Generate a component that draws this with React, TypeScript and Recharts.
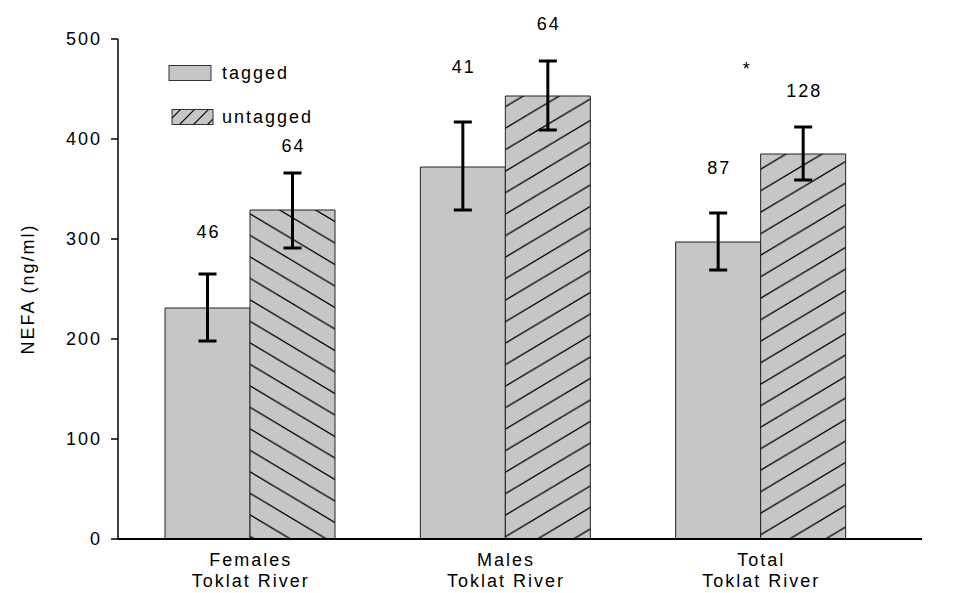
import React from 'react';
import {
  BarChart,
  Bar,
  XAxis,
  YAxis,
  ErrorBar,
  Cell,
  LabelList,
  Label
} from 'recharts';

// group names (two-line tick labels)
const groupNames = ['Females', 'Males', 'Total'];
const groupSub = ['Toklat River', 'Toklat River', 'Toklat River'];

// NEFA means (ng/ml), [minus, plus] error and sample sizes
const taggedMean = [231, 372, 297];
const taggedErr = [[33, 34], [43, 45], [28, 29]];
const taggedN = [46, 41, 87];

const untaggedMean = [329, 443, 385];
const untaggedErr = [[38, 37], [34, 35], [26, 27]];
const untaggedN = [64, 64, 128];

const significance = ['', '', '*'];

const yTicks = [0, 100, 200, 300, 400, 500];

const FONT = '"Liberation Sans", Arial, sans-serif';
const GRAY = '#c6c6c6';

// how far (px) the n-labels sit above the error bar tops
const TAGGED_LIFT = [42, 55, 45];
const UNTAGGED_LIFT = [27, 37, 36];

const data = groupNames.map((name, i) => ({
  name,
  sub: groupSub[i],
  tagged: taggedMean[i],
  taggedErr: taggedErr[i],
  taggedN: taggedN[i],
  untagged: untaggedMean[i],
  untaggedErr: untaggedErr[i],
  untaggedN: untaggedN[i],
  sig: significance[i]
}));

const textStyle = { fontFamily: FONT, fontSize: 18, fill: '#000', letterSpacing: 2 };

const GroupTick = (props: any) => {
  const { x, y, payload, index } = props;
  return (
    <g>
      <text x={x + 1} y={y + 19} textAnchor="middle" style={textStyle}>{payload.value}</text>
      <text x={x + 1} y={y + 40} textAnchor="middle" style={textStyle}>{groupSub[index]}</text>
    </g>
  );
};

const makeNLabel = (errs: number[][], lifts: number[], withSig: boolean) => (props: any) => {
  const { x, y, width, height, value, index } = props;
  const mean = withSig ? untaggedMean[index] : taggedMean[index];
  const pxPerUnit = height / mean;
  const errTop = y - errs[index][1] * pxPerUnit;
  const cx = x + width / 2;
  return (
    <g>
      <text x={cx + 1} y={errTop - lifts[index]} textAnchor="middle" dominantBaseline="central" style={textStyle}>
        {value}
      </text>
      {withSig && significance[index] ? (
        <text x={cx - 56} y={errTop - 58} textAnchor="middle" dominantBaseline="central" style={textStyle}>
          {significance[index]}
        </text>
      ) : null}
    </g>
  );
};

// legend drawn over the chart
const LegendBox = () => (
  <div
    style={{
      position: 'absolute',
      left: 168,
      top: 63,
      fontFamily: FONT,
      fontSize: 18,
      letterSpacing: 2,
      color: '#000',
      lineHeight: '20px'
    }}
  >
    <div style={{ display: 'flex', alignItems: 'center', height: 20 }}>
      <svg width={46} height={18}>
        <rect x={1} y={1.5} width={42} height={15} fill={GRAY} stroke="#333" strokeWidth={1} />
      </svg>
      <span style={{ marginLeft: 8 }}>tagged</span>
    </div>
    <div style={{ display: 'flex', alignItems: 'center', height: 20, marginTop: 24 }}>
      <svg width={46} height={18}>
        <rect x={4} y={1.5} width={41} height={15} fill="url(#hatchLegend)" stroke="#333" strokeWidth={1} />
      </svg>
      <span style={{ marginLeft: 8 }}>untagged</span>
    </div>
  </div>
);

export default function App() {
  return (
    <div style={{ position: 'absolute', left: 0, top: 0, width: 965, height: 593, background: '#fff' }}>
      <BarChart
        width={965}
        height={593}
        data={data}
        margin={{ top: 39, right: 43, bottom: 24, left: 0 }}
        barGap={0}
        barSize={85}
      >
        <defs>
          <pattern id="hatchSlash" patternUnits="userSpaceOnUse" width={36} height={21.5}>
            <rect width={36} height={21.5} fill={GRAY} />
            <line x1={0} y1={21.5} x2={36} y2={0} stroke="#000" strokeWidth={1.3} />
            <line x1={-4} y1={2.4} x2={4} y2={-2.4} stroke="#000" strokeWidth={1.3} />
            <line x1={32} y1={23.9} x2={40} y2={19.1} stroke="#000" strokeWidth={1.3} />
          </pattern>
          <pattern id="hatchBack" patternUnits="userSpaceOnUse" width={36} height={21.5}>
            <rect width={36} height={21.5} fill={GRAY} />
            <line x1={0} y1={0} x2={36} y2={21.5} stroke="#000" strokeWidth={1.3} />
            <line x1={-4} y1={19.1} x2={4} y2={23.9} stroke="#000" strokeWidth={1.3} />
            <line x1={32} y1={-2.4} x2={40} y2={2.4} stroke="#000" strokeWidth={1.3} />
          </pattern>
          <pattern id="hatchLegend" patternUnits="userSpaceOnUse" width={14} height={14}>
            <rect width={14} height={14} fill={GRAY} />
            <line x1={0} y1={14} x2={14} y2={0} stroke="#000" strokeWidth={1.2} />
            <line x1={-2} y1={2} x2={2} y2={-2} stroke="#000" strokeWidth={1.2} />
            <line x1={12} y1={16} x2={16} y2={12} stroke="#000" strokeWidth={1.2} />
          </pattern>
        </defs>
        <XAxis
          dataKey="name"
          height={30}
          tick={<GroupTick />}
          tickLine={false}
          axisLine={{ stroke: '#000', strokeWidth: 2 }}
          padding={{ left: 4, right: 34 }}
          interval={0}
        />
        <YAxis
          width={118}
          domain={[0, 500]}
          ticks={yTicks}
          tickSize={7}
          tickMargin={9}
          tick={textStyle}
          tickLine={{ stroke: '#000', strokeWidth: 1.5 }}
          axisLine={{ stroke: '#000', strokeWidth: 1.5 }}
          allowDataOverflow
        >
          <Label
            content={(p: any) => {
              const vb = p.viewBox || { y: 39, height: 500 };
              const cy = vb.y + vb.height / 2;
              return (
                <text
                  x={28}
                  y={cy}
                  transform={`rotate(-90, 28, ${cy})`}
                  textAnchor="middle"
                  dominantBaseline="central"
                  style={textStyle}
                >
                  NEFA (ng/ml)
                </text>
              );
            }}
          />
        </YAxis>
        <Bar dataKey="tagged" fill={GRAY} stroke="#222" strokeWidth={1} isAnimationActive={false}>
          <ErrorBar dataKey="taggedErr" width={9} stroke="#000" strokeWidth={3} />
          <LabelList dataKey="taggedN" content={makeNLabel(taggedErr, TAGGED_LIFT, false)} />
        </Bar>
        <Bar dataKey="untagged" stroke="#222" strokeWidth={1} isAnimationActive={false}>
          {data.map((d, i) => (
            <Cell key={`u-${i}`} fill={i === 0 ? 'url(#hatchBack)' : 'url(#hatchSlash)'} />
          ))}
          <ErrorBar dataKey="untaggedErr" width={9} stroke="#000" strokeWidth={3} />
          <LabelList dataKey="untaggedN" content={makeNLabel(untaggedErr, UNTAGGED_LIFT, true)} />
        </Bar>
      </BarChart>
      <LegendBox />
    </div>
  );
}
